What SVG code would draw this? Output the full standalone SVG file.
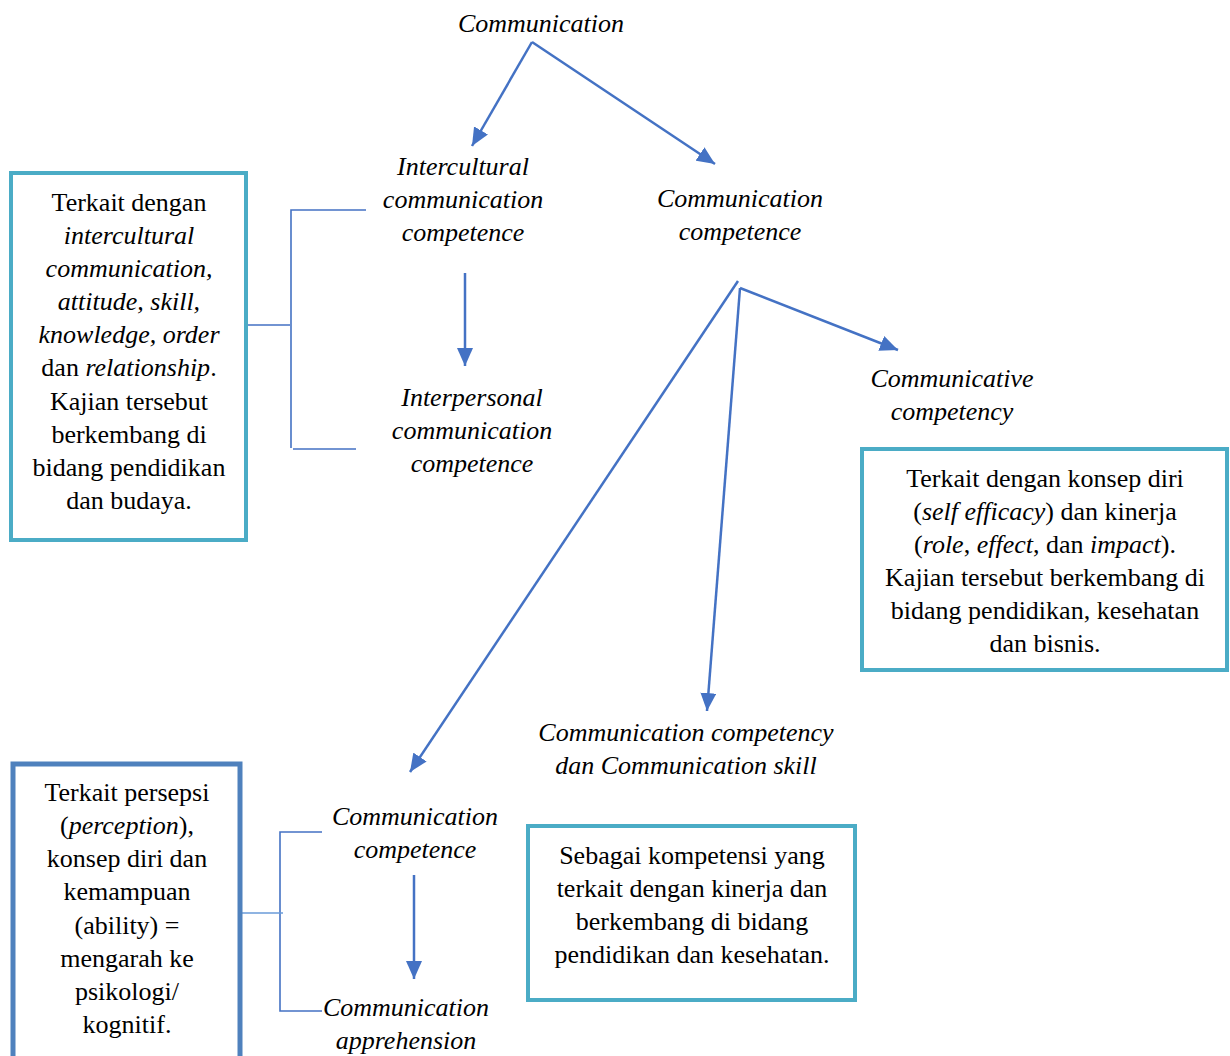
<svg xmlns="http://www.w3.org/2000/svg" width="1230" height="1056" viewBox="0 0 1230 1056">
<style>
text{font-family:"Liberation Serif","Times New Roman",serif;font-size:26px;fill:#000;text-anchor:middle}
.i{font-style:italic}
.ln{stroke:#4472C4;stroke-width:2.5;fill:none}
.br{stroke:#4472C4;stroke-width:1.6;fill:none}
.bx1{fill:#fff;stroke:#4BACC6;stroke-width:4}
.bx2{fill:#fff;stroke:#4F81BD;stroke-width:5}
</style>
<defs>
<marker id="ah" markerUnits="userSpaceOnUse" markerWidth="20" markerHeight="16" refX="18" refY="8" orient="auto">
<path d="M0,0 L18,8 L0,16 Z" fill="#4472C4"/>
</marker>
</defs>
<rect width="1230" height="1056" fill="#fff"/>
<g id="connectors">
<line class="ln" x1="532" y1="42" x2="472" y2="146" marker-end="url(#ah)"/>
<line class="ln" x1="532" y1="42" x2="715" y2="164" marker-end="url(#ah)"/>
<line class="ln" x1="465" y1="273" x2="465" y2="366" marker-end="url(#ah)"/>
<line class="ln" x1="738" y1="281" x2="410" y2="772" marker-end="url(#ah)"/>
<line class="ln" x1="740" y1="288" x2="707" y2="711" marker-end="url(#ah)"/>
<line class="ln" x1="740" y1="288" x2="898" y2="350" marker-end="url(#ah)"/>
<line class="ln" x1="414" y1="875" x2="414" y2="979" marker-end="url(#ah)"/>
<path class="br" d="M366,210 H291 V448 M293,449 H356 M248,325 H290"/>
<path class="br" d="M322,832 H280 V1011 H322"/>
<line x1="242" y1="913" x2="283" y2="913" stroke="#6A9BD8" stroke-width="1.4"/>
</g>
<g id="n-communication"><text class="i" x="541" y="32">Communication</text></g>
<g id="n-intercultural"><text class="i" x="463" y="175">Intercultural</text><text class="i" x="463" y="208">communication</text><text class="i" x="463" y="241">competence</text></g>
<g id="n-commcomp"><text class="i" x="740" y="207">Communication</text><text class="i" x="740" y="240">competence</text></g>
<g id="n-interpersonal"><text class="i" x="472" y="406">Interpersonal</text><text class="i" x="472" y="439">communication</text><text class="i" x="472" y="472">competence</text></g>
<g id="n-communicative"><text class="i" x="952" y="387">Communicative</text><text class="i" x="952" y="420">competency</text></g>
<g id="box-left-top">
<rect class="bx1" x="11" y="173" width="235" height="367"/>
<text x="129" y="211">Terkait dengan</text>
<text class="i" x="129" y="244">intercultural</text>
<text class="i" x="129" y="277">communication,</text>
<text class="i" x="129" y="310">attitude, skill,</text>
<text class="i" x="129" y="343">knowledge, order</text>
<text x="129" y="376">dan <tspan class="i">relationship</tspan>.</text>
<text x="129" y="410">Kajian tersebut</text>
<text x="129" y="443">berkembang di</text>
<text x="129" y="476">bidang pendidikan</text>
<text x="129" y="509">dan budaya.</text>
</g>
<g id="box-right">
<rect class="bx1" x="862" y="449" width="365" height="221"/>
<text x="1045" y="487">Terkait dengan konsep diri</text>
<text x="1045" y="520">(<tspan class="i">self efficacy</tspan>) dan kinerja</text>
<text x="1045" y="553">(<tspan class="i">role</tspan>, <tspan class="i">effect</tspan>, dan <tspan class="i">impact</tspan>).</text>
<text x="1045" y="586">Kajian tersebut berkembang di</text>
<text x="1045" y="619">bidang pendidikan, kesehatan</text>
<text x="1045" y="652">dan bisnis.</text>
</g>
<g id="n-competency-skill"><text class="i" x="686" y="741">Communication competency</text><text class="i" x="686" y="774">dan Communication skill</text></g>
<g id="box-mid-bottom">
<rect class="bx1" x="528" y="826" width="327" height="174"/>
<text x="692" y="864">Sebagai kompetensi yang</text>
<text x="692" y="897">terkait dengan kinerja dan</text>
<text x="692" y="930">berkembang di bidang</text>
<text x="692" y="963">pendidikan dan kesehatan.</text>
</g>
<g id="box-left-bottom">
<rect class="bx2" x="13" y="764" width="227" height="300"/>
<text x="127" y="801">Terkait persepsi</text>
<text x="127" y="834">(<tspan class="i">perception</tspan>),</text>
<text x="127" y="867">konsep diri dan</text>
<text x="127" y="900">kemampuan</text>
<text x="127" y="934">(ability) =</text>
<text x="127" y="967">mengarah ke</text>
<text x="127" y="1000">psikologi/</text>
<text x="127" y="1033">kognitif.</text>
</g>
<g id="n-commcomp2"><text class="i" x="415" y="825">Communication</text><text class="i" x="415" y="858">competence</text></g>
<g id="n-apprehension"><text class="i" x="406" y="1016">Communication</text><text class="i" x="406" y="1049">apprehension</text></g>
</svg>
